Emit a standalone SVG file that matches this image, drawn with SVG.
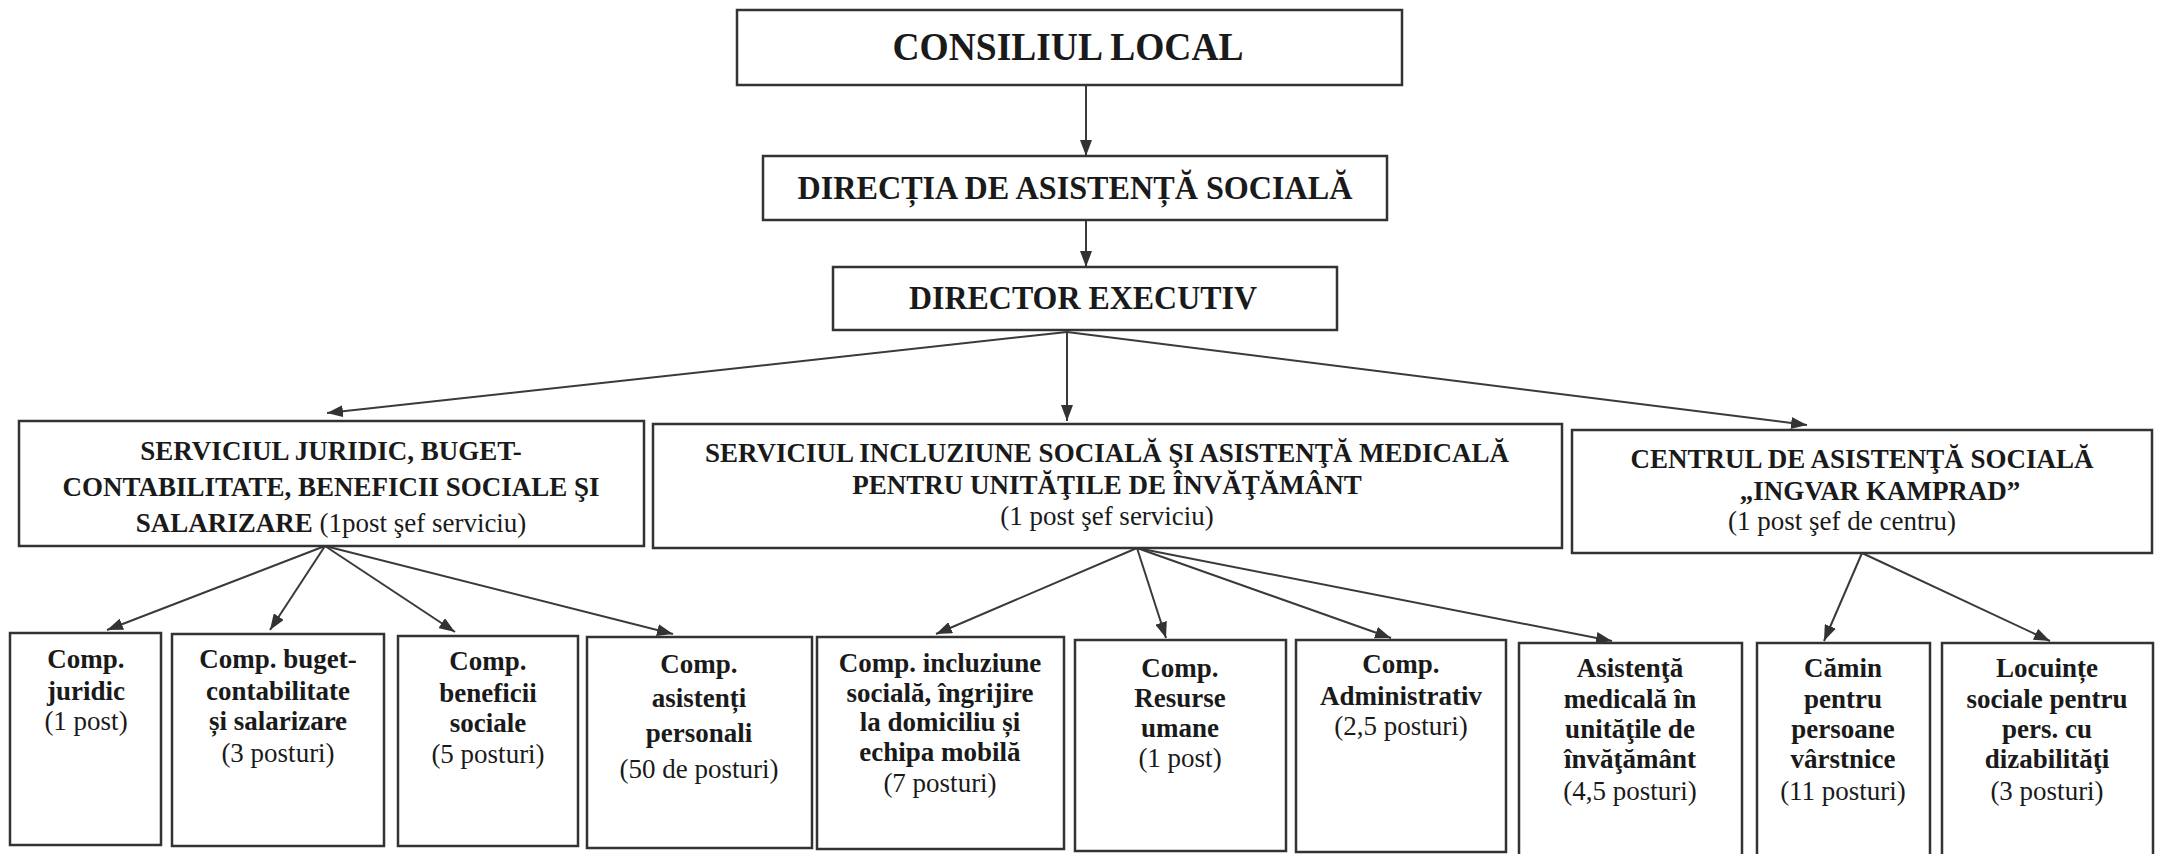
<svg xmlns="http://www.w3.org/2000/svg" width="2157" height="854" viewBox="0 0 2157 854">
<style>
.box{fill:#fff;stroke:#333;stroke-width:2.5}
text{font-family:"Liberation Serif","Times New Roman",serif;fill:#1a1a1a;text-anchor:middle}
.t1{font-size:40px;font-weight:bold}
.t2{font-size:34px;font-weight:bold}
.h{font-size:27px;font-weight:bold}
.r{font-size:27px;font-weight:normal}
.c{stroke:#3a3a3a;stroke-width:2;fill:none;marker-end:url(#ah)}
</style>
<defs>
<marker id="ah" viewBox="0 0 16 12" refX="16" refY="6" markerWidth="16" markerHeight="12" orient="auto" markerUnits="userSpaceOnUse">
<path d="M0,0 L16,6 L0,12 z" fill="#333"/>
</marker>
</defs>
<rect width="2157" height="854" fill="#fff"/>

<g id="connectors">
<line class="c" x1="1086" y1="85" x2="1086" y2="156"/>
<line class="c" x1="1086" y1="220" x2="1086" y2="267"/>
<line class="c" x1="1067" y1="332" x2="327" y2="413"/>
<line class="c" x1="1067" y1="332" x2="1067" y2="421"/>
<line class="c" x1="1067" y1="332" x2="1807" y2="425"/>
<line class="c" x1="325" y1="546" x2="107" y2="630"/>
<line class="c" x1="325" y1="546" x2="270" y2="630"/>
<line class="c" x1="325" y1="546" x2="455" y2="632"/>
<line class="c" x1="325" y1="546" x2="673" y2="634"/>
<line class="c" x1="1137" y1="548" x2="936" y2="634"/>
<line class="c" x1="1137" y1="548" x2="1166" y2="638"/>
<line class="c" x1="1137" y1="548" x2="1391" y2="638"/>
<line class="c" x1="1137" y1="548" x2="1612" y2="641"/>
<line class="c" x1="1862" y1="553" x2="1824" y2="641"/>
<line class="c" x1="1862" y1="553" x2="2050" y2="641"/>
</g>

<g id="consiliul-local">
<rect class="box" x="737" y="10" width="665" height="75"/>
<text class="t1" x="1068" y="60" textLength="351" lengthAdjust="spacingAndGlyphs">CONSILIUL LOCAL</text>
</g>
<g id="directia">
<rect class="box" x="763" y="156" width="624" height="64"/>
<text class="t2" x="1075" y="199" textLength="555" lengthAdjust="spacingAndGlyphs">DIRECȚIA DE ASISTENȚĂ SOCIALĂ</text>
</g>
<g id="director">
<rect class="box" x="833" y="267" width="504" height="63"/>
<text class="t2" x="1083" y="309" textLength="348" lengthAdjust="spacingAndGlyphs">DIRECTOR EXECUTIV</text>
</g>

<g id="serviciul-juridic">
<rect class="box" x="19" y="421" width="625" height="125"/>
<text class="h" x="331" y="460">SERVICIUL JURIDIC, BUGET-</text>
<text class="h" x="331" y="496">CONTABILITATE, BENEFICII SOCIALE ŞI</text>
<text class="h" x="331" y="532">SALARIZARE<tspan class="r"> (1post şef serviciu)</tspan></text>
</g>
<g id="serviciul-incluziune">
<rect class="box" x="653" y="424" width="909" height="124"/>
<text class="h" x="1107" y="462">SERVICIUL INCLUZIUNE SOCIALĂ ŞI ASISTENŢĂ MEDICALĂ</text>
<text class="h" x="1107" y="494">PENTRU UNITĂŢILE DE ÎNVĂŢĂMÂNT</text>
<text class="r" x="1107" y="525">(1 post şef serviciu)</text>
</g>
<g id="centrul">
<rect class="box" x="1572" y="430" width="580" height="123"/>
<text class="h" x="1862" y="468">CENTRUL DE ASISTENŢĂ SOCIALĂ</text>
<text class="h" x="1880" y="500">„INGVAR KAMPRAD”</text>
<text class="r" x="1842" y="530">(1 post şef de centru)</text>
</g>

<g id="comp-juridic">
<rect class="box" x="10" y="633" width="151" height="212"/>
<text class="h" x="86" y="668">Comp.</text>
<text class="h" x="86" y="700">juridic</text>
<text class="r" x="86" y="730">(1 post)</text>
</g>
<g id="comp-buget">
<rect class="box" x="172" y="634" width="212" height="212"/>
<text class="h" x="278" y="668">Comp. buget-</text>
<text class="h" x="278" y="700">contabilitate</text>
<text class="h" x="278" y="730">și salarizare</text>
<text class="r" x="278" y="762">(3 posturi)</text>
</g>
<g id="comp-beneficii">
<rect class="box" x="398" y="636" width="180" height="210"/>
<text class="h" x="488" y="670">Comp.</text>
<text class="h" x="488" y="702">beneficii</text>
<text class="h" x="488" y="732">sociale</text>
<text class="r" x="488" y="763">(5 posturi)</text>
</g>
<g id="comp-asistenti">
<rect class="box" x="587" y="637" width="225" height="211"/>
<text class="h" x="699" y="673">Comp.</text>
<text class="h" x="699" y="707">asistenți</text>
<text class="h" x="699" y="742">personali</text>
<text class="r" x="699" y="778">(50 de posturi)</text>
</g>
<g id="comp-incluziune">
<rect class="box" x="817" y="637" width="247" height="212"/>
<text class="h" x="940" y="672">Comp. incluziune</text>
<text class="h" x="940" y="702">socială, îngrijire</text>
<text class="h" x="940" y="731">la domiciliu și</text>
<text class="h" x="940" y="761">echipa mobilă</text>
<text class="r" x="940" y="792">(7 posturi)</text>
</g>
<g id="comp-resurse">
<rect class="box" x="1075" y="640" width="211" height="211"/>
<text class="h" x="1180" y="677">Comp.</text>
<text class="h" x="1180" y="707">Resurse</text>
<text class="h" x="1180" y="737">umane</text>
<text class="r" x="1180" y="767">(1 post)</text>
</g>
<g id="comp-administrativ">
<rect class="box" x="1296" y="640" width="210" height="212"/>
<text class="h" x="1401" y="673">Comp.</text>
<text class="h" x="1401" y="705">Administrativ</text>
<text class="r" x="1401" y="735">(2,5 posturi)</text>
</g>
<g id="asistenta-medicala">
<rect class="box" x="1519" y="643" width="223" height="215"/>
<text class="h" x="1630" y="677">Asistenţă</text>
<text class="h" x="1630" y="708">medicală în</text>
<text class="h" x="1630" y="738">unităţile de</text>
<text class="h" x="1630" y="768">învăţământ</text>
<text class="r" x="1630" y="800">(4,5 posturi)</text>
</g>
<g id="camin">
<rect class="box" x="1757" y="643" width="173" height="215"/>
<text class="h" x="1843" y="677">Cămin</text>
<text class="h" x="1843" y="708">pentru</text>
<text class="h" x="1843" y="738">persoane</text>
<text class="h" x="1843" y="768">vârstnice</text>
<text class="r" x="1843" y="800">(11 posturi)</text>
</g>
<g id="locuinte">
<rect class="box" x="1942" y="643" width="211" height="215"/>
<text class="h" x="2047" y="677">Locuințe</text>
<text class="h" x="2047" y="708">sociale pentru</text>
<text class="h" x="2047" y="738">pers. cu</text>
<text class="h" x="2047" y="768">dizabilităţi</text>
<text class="r" x="2047" y="800">(3 posturi)</text>
</g>
</svg>
